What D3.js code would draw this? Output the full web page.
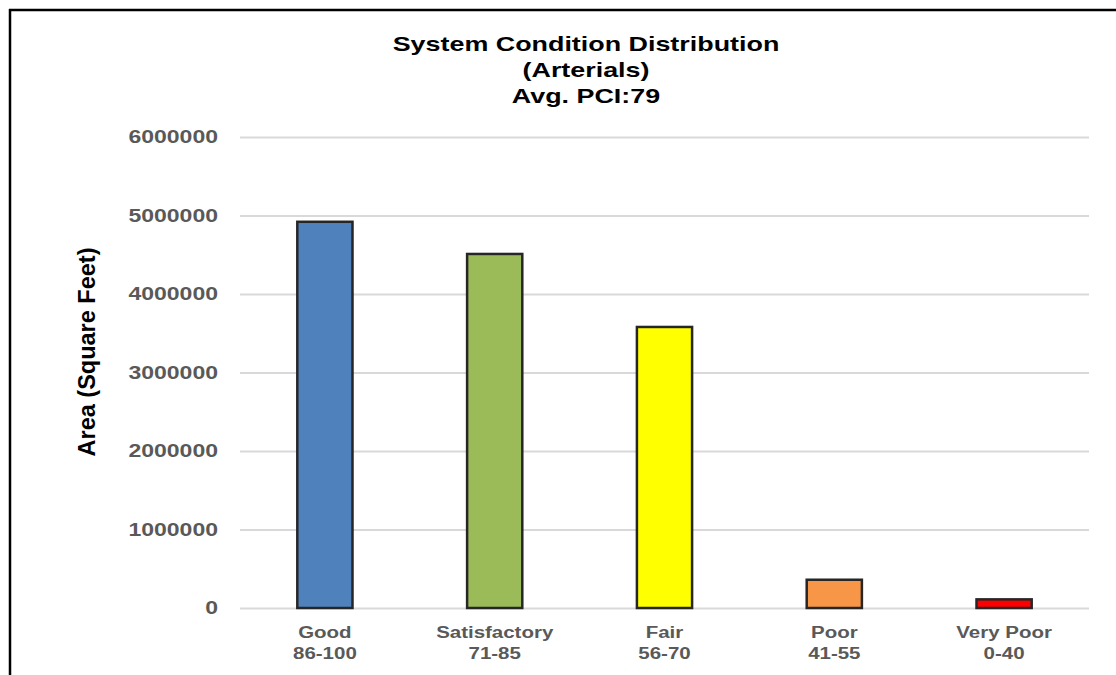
<!DOCTYPE html>
<html lang="en">
  <head>
    <meta charset="utf-8" />
    <title>System Condition Distribution (Arterials)</title>
    <script src="https://cdn.jsdelivr.net/npm/d3@7"></script>
    <style>
      body { margin: 0; background: #fff; }
      text { font-family: "Liberation Sans", Arial, sans-serif; font-weight: bold; }
      .grid line { stroke: #d9d9d9; stroke-width: 2px; }
      .grid text { fill: #595959; font-size: 18px; }
      .xlab { fill: #595959; font-size: 16px; }
      .title { fill: #000; font-size: 21px; }
      .bar { stroke: #262626; stroke-width: 2.5px; }
    </style>
  </head>
  <body>
    <script>
      // data
      let categories = ["Good", "Satisfactory", "Fair", "Poor", "Very Poor"];
      let ranges = ["86-100", "71-85", "56-70", "41-55", "0-40"];
      let areas = [4920000, 4510000, 3580000, 360000, 110000];
      let colors = ["#4f81bd", "#9bbb59", "#ffff00", "#f79646", "#ff0000"];
      let yTicks = [0, 1000000, 2000000, 3000000, 4000000, 5000000, 6000000];
      let titleLines = ["System Condition Distribution", "(Arterials)", "Avg. PCI:79"];
      let yTitle = "Area (Square Feet)";

      let w = 1116;
      let h = 675;
      let sx = 1.28; // the picture is stretched sideways
      let plotLeft = 240, plotRight = 1089, plotTop = 137, plotBottom = 608;

      let svg = d3.select("body").append("svg").attr("width", w).attr("height", h);

      // frame
      svg.append("line").attr("x1", 9).attr("x2", w).attr("y1", 10).attr("y2", 10)
        .attr("stroke", "#000").attr("stroke-width", 2.5);
      svg.append("line").attr("x1", 10).attr("x2", 10).attr("y1", 9).attr("y2", h)
        .attr("stroke", "#000").attr("stroke-width", 2.5);

      let x = d3.scaleBand().domain(categories).range([plotLeft, plotRight])
        .paddingInner(0.675).paddingOuter(0.3375);
      let y = d3.scaleLinear().domain([0, 6000000]).range([plotBottom, plotTop]);

      let yAxis = d3.axisLeft(y).tickValues(yTicks).tickSize(-(plotRight - plotLeft))
        .tickFormat(d3.format("d"));
      let g = svg.append("g").attr("class", "grid")
        .attr("transform", `translate(${plotLeft},0)`).call(yAxis);
      g.select(".domain").remove();
      g.selectAll(".tick text").attr("x", -22 / sx).attr("transform", `scale(${sx},1)`);

      svg.selectAll("rect.bar").data(areas).join("rect").attr("class", "bar")
        .attr("x", (d, i) => x(categories[i]))
        .attr("width", x.bandwidth())
        .attr("y", (d) => y(d))
        .attr("height", (d) => y(0) - y(d))
        .attr("fill", (d, i) => colors[i]);

      // two-line category labels
      let lab = svg.selectAll("text.xlab").data(categories).join("text").attr("class", "xlab")
        .attr("text-anchor", "middle")
        .attr("transform", (d) => `translate(${x(d) + x.bandwidth() / 2},638) scale(${sx},1)`);
      lab.append("tspan").attr("x", 0).attr("y", 0).text((d) => d);
      lab.append("tspan").attr("x", 0).attr("y", 21).text((d, i) => ranges[i]);

      svg.selectAll("text.title").data(titleLines).join("text").attr("class", "title")
        .attr("text-anchor", "middle")
        .attr("transform", (d, i) => `translate(586,${51 + i * 26}) scale(${sx},1)`)
        .text((d) => d);

      svg.append("text").attr("text-anchor", "middle")
        .attr("transform", "translate(87,352) rotate(-90)")
        .attr("dy", "0.35em").style("font-size", "23.5px").attr("fill", "#000")
        .text(yTitle);
    </script>
  </body>
</html>
